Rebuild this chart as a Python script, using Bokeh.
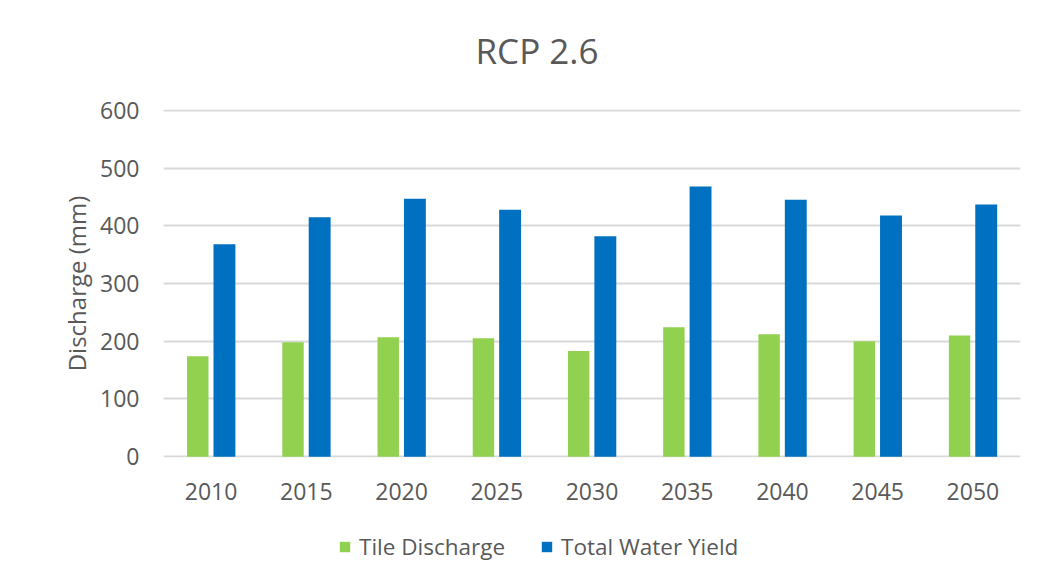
from bokeh.plotting import figure
from bokeh.layouts import column
from bokeh.models import FactorRange, Range1d, ColumnDataSource, Legend, LegendItem, FixedTicker, Label
from bokeh.transform import dodge
from bokeh.embed import file_html
from bokeh.resources import INLINE

years = ["2010", "2015", "2020", "2025", "2030", "2035", "2040", "2045", "2050"]
tile_discharge = [174, 198, 207, 205, 183, 224, 212, 200, 210]
total_water_yield = [368, 415, 447, 428, 382, 468, 445, 418, 437]
y_ticks = [0, 100, 200, 300, 400, 500, 600]
series_names = ["Tile Discharge", "Total Water Yield"]
series_colors = ["#92d050", "#0070c0"]
title_text = "RCP 2.6"

FONT = "Open Sans"
TXT = "#595959"
W = 1042


def strip(height):
    f = figure(width=W, height=height, output_backend="svg", toolbar_location=None,
               x_range=Range1d(0, 1), y_range=Range1d(0, 1),
               x_axis_location=None, y_axis_location=None,
               min_border_left=0, min_border_right=0, min_border_top=0, min_border_bottom=0)
    f.outline_line_color = None
    f.xgrid.visible = False
    f.ygrid.visible = False
    return f


# title strip
p0 = strip(89)
p0.add_layout(Label(x=312, y=39, x_units="screen", y_units="screen", text=title_text,
                    text_font=FONT, text_font_size="35px", text_color=TXT,
                    text_align="left", text_baseline="alphabetic"))

# main chart
src = ColumnDataSource(dict(year=years, tile=tile_discharge, total=total_water_yield))

p = figure(x_range=FactorRange(*years, range_padding=0), y_range=Range1d(-1.5, 601.5),
           width=W, height=431, output_backend="svg", toolbar_location=None,
           min_border_left=163, min_border_right=22, min_border_top=20, min_border_bottom=63)

p.vbar(x=dodge("year", -0.14, range=p.x_range), top="tile", width=0.225, source=src,
       fill_color=series_colors[0], line_color=None)
p.vbar(x=dodge("year", 0.14, range=p.x_range), top="total", width=0.23, source=src,
       fill_color=series_colors[1], line_color=None)

p.outline_line_color = None
p.xgrid.grid_line_color = None
p.ygrid.grid_line_color = "#d9d9d9"
p.ygrid.grid_line_width = 2
p.yaxis.ticker = FixedTicker(ticks=y_ticks)

for ax in (p.xaxis, p.yaxis):
    ax.axis_line_color = None
    ax.major_tick_line_color = None
    ax.minor_tick_line_color = None
    ax.major_label_text_font = FONT
    ax.major_label_text_font_size = "23px"
    ax.major_label_text_color = TXT

p.xaxis.major_label_standoff = 19
p.yaxis.major_label_standoff = 18
p.yaxis.axis_label = "Discharge (mm)"
p.yaxis.axis_label_text_font = FONT
p.yaxis.axis_label_text_font_size = "24px"
p.yaxis.axis_label_text_font_style = "normal"
p.yaxis.axis_label_text_color = TXT
p.yaxis.axis_label_standoff = 4

# legend strip
p2 = strip(58)
r1 = p2.vbar(x=[0.5], top=[0], bottom=[0], width=0.01, fill_color=series_colors[0], line_color=None)
r2 = p2.vbar(x=[0.5], top=[0], bottom=[0], width=0.01, fill_color=series_colors[1], line_color=None)

legend = Legend(items=[LegendItem(label=series_names[0], renderers=[r1]),
                       LegendItem(label=series_names[1], renderers=[r2])],
                orientation="horizontal", location=(175, 16),
                label_text_font=FONT, label_text_font_size="22.5px", label_text_color=TXT,
                glyph_width=13, glyph_height=13, label_standoff=8, spacing=35,
                padding=0, margin=0, border_line_color=None, background_fill_alpha=0)
p2.add_layout(legend)

layout = column(p0, p, p2, spacing=0)
open("out.html", "w").write(file_html(layout, INLINE))
